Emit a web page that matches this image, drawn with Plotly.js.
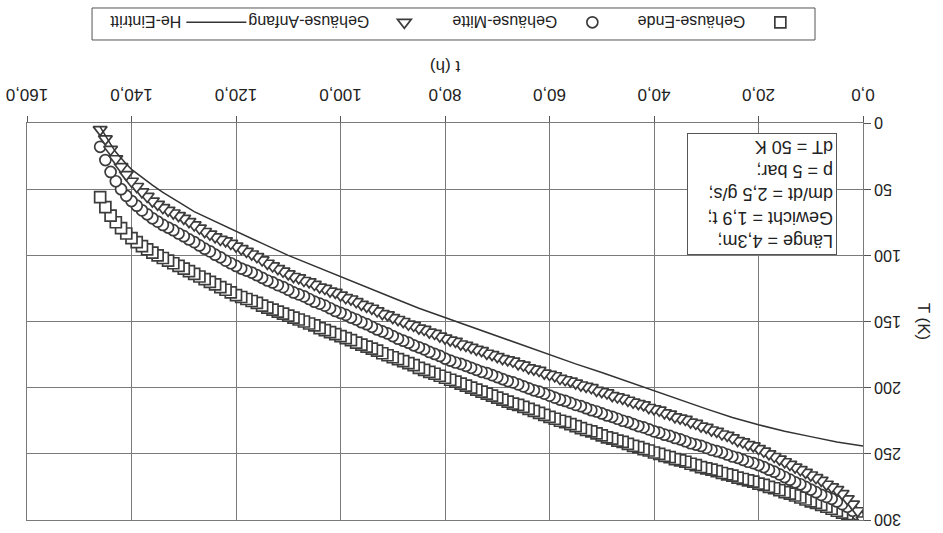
<!DOCTYPE html>
<html>
<head>
<meta charset="utf-8">
<script src="https://cdn.plot.ly/plotly-3.0.1.min.js"></script>
<style>
  html, body { margin: 0; padding: 0; background: #fff; }
  #chart { width: 943px; height: 533px; transform: rotate(180deg); transform-origin: 50% 50%; }
</style>
</head>
<body>
<div id="chart"></div>
<script>
// Time axis of the housing temperature samples (h)
const tHours = [
  0,1,2,3,4,5,6,7,8,9,
  10,11,12,13,14,15,16,17,18,19,
  20,21,22,23,24,25,26,27,28,29,
  30,31,32,33,34,35,36,37,38,39,
  40,41,42,43,44,45,46,47,48,49,
  50,51,52,53,54,55,56,57,58,59,
  60,61,62,63,64,65,66,67,68,69,
  70,71,72,73,74,75,76,77,78,79,
  80,81,82,83,84,85,86,87,88,89,
  90,91,92,93,94,95,96,97,98,99,
  100,101,102,103,104,105,106,107,108,109,
  110,111,112,113,114,115,116,117,118,119,
  120,121,122,123,124,125,126,127,128,129,
  130,131,132,133,134,135,136,137,138,139,
  140,141,142,143,144,145,146
];

// Gehäuse-Ende (squares), T in K
const tempEnde = [
  300,298.5,297,295.5,294.5,293,291.5,290,288.5,287,
  286,284.5,283,281.5,280,279,277.5,276,275,273.5,
  272.5,271,270,269,268,266.5,265.5,264.5,263,262,
  261,260,258.5,257.5,256,255,254,252.5,251.5,250,
  249,247.5,246.5,245,244,242.5,241,240,238.5,237.5,
  236,234.5,233,232,230.5,229,227.5,226,225,223.5,
  222,220.5,219,217.5,216,214.5,213,212,210.5,209,
  207.5,206,204.5,203,201.5,200,198.5,197,195.5,194,
  192.5,191,189.5,188,186.5,185,183,181.5,180,178.5,
  177,175.5,174,172,170.5,169,167.5,166,164,162.5,
  161,159.5,158,156.5,155,153,151.5,150,148.5,147,
  145.5,144,142.5,141,139.5,138,136,134.5,133,131.5,
  130,128,126,124,122,120,118,116,114,112,
  110,108,106,104,102,100,98,95.5,93,90,
  87,83.5,79.5,75,70,63.5,56
];

// Gehäuse-Mitte (circles), T in K
const tempMitte = [
  300,296,293,290,288,286,284,282.5,281,279,
  277,275,273,271.5,269.5,267.5,265.5,263.5,262,260,
  258.5,257,256,254.5,253,252,250.5,249,248,247,
  245.5,244,243,242,240.5,239,238,236.5,235.5,234,
  233,231.5,230,229,227.5,226,225,223.5,222,221,
  219.5,218,217,215.5,214,213,211.5,210,209,207.5,
  206,204.5,203,202,200.5,199,197.5,196,195,193.5,
  192,190.5,189,188,186.5,185,183.5,182,181,179.5,
  178,176,174.5,173,171,169.5,168,166,164.5,163,
  161,159,157.5,156,154,152,150.5,148.5,147,145,
  143.5,142,140,138,136.5,135,133,131,129.5,128,
  126,124,122.5,120.5,119,117,115,113,111.5,110,
  108,106,104,101.5,99.5,97,95,92.5,90,88,
  85.5,83.5,81,79,77,74.5,72,69,66,62.5,
  59,55,50,44,37,28,18
];

// Gehäuse-Anfang (triangles), T in K
const tempAnfang = [
  300,293,288,284,280,277,275,273,270,268,
  266,264,262,260,258,256,254,252,250,248,
  246,244,243,241,240,238,236,235,233,232,
  230,229,227,226,224,223,222,220,219,217,
  216,215,213,212,211,209.5,208,207,206,204,
  203,202,200,199,198,196.5,195,194,193,191,
  190,189,187,186,185,183,182,180,179,178,
  176.5,175,174,172,171,169.5,168,167,165,164,
  162.5,161,159,158,156,155,153,152,150,148.5,
  147,145,144,142,140,138.5,137,135,133,132,
  130,128,127,125,124,122,120,119,117,116,
  114,112,110,108,106,103.5,101,99,97,95,
  93,91,89,88,86,84,82,79.5,77,74.5,
  72,70,68,66,64,61.5,59,55.5,52,48,
  44,39,33,27,20,12,5
];

// He-Eintritt (line)
const tHe = [0,5,10,15,20,25,30,35,40,45,50,55,60,65,70,75,80,85,90,95,100,105,110,115,120,125,128,130,132,134,136,138,140,141,142,143,144,145,146];
const tempHe = [244,241,237,233,228,222.5,216,209,202,195,188.5,182,175,168,161,154,147.5,140,132,124,116,108,100,91,82,73,67,62,57.5,52.5,47,41,35,31,26.5,22,16,10,3];

const xTicks = [0,20,40,60,80,100,120,140,160];
const yTicks = [0,50,100,150,200,250,300];

const seriesNames = ['Gehäuse-Ende','Gehäuse-Mitte','Gehäuse-Anfang','He-Eintritt'];
const infoLines = ['Länge = 4,3m;','Gewicht = 1,9 t;','dm/dt = 2,5 g/s;','p = 5 bar;','dT = 50 K'];

const FONT = 'Liberation Sans, Arial, sans-serif';
const mk = (sym, sz) => ({symbol: sym, size: sz, color: '#ffffff', line: {color: '#3c3c3c', width: 1.7}});

const traces = [
  {x: tHours, y: tempEnde, name: seriesNames[0], type: 'scatter', mode: 'markers', marker: mk('square', 11)},
  {x: tHours, y: tempMitte, name: seriesNames[1], type: 'scatter', mode: 'markers', marker: mk('circle', 11)},
  {x: tHours, y: tempAnfang, name: seriesNames[2], type: 'scatter', mode: 'markers', marker: mk('triangle-up', 12)},
  {x: tHe, y: tempHe, name: seriesNames[3], type: 'scatter', mode: 'lines', line: {color: '#333333', width: 1.5}}
];

const layout = {
  width: 943, height: 533,
  margin: {l: 80, r: 27, t: 13, b: 123, pad: 0, autoexpand: false},
  paper_bgcolor: '#ffffff', plot_bgcolor: '#ffffff',
  separators: ',.',
  font: {family: FONT, size: 16, color: '#222222'},
  showlegend: true,
  legend: {
    orientation: 'h', x: 0.057, xanchor: 'left', y: -0.211, yanchor: 'top',
    borderwidth: 0, bgcolor: 'rgba(0,0,0,0)',
    font: {family: FONT, size: 16, color: '#222222'},
    traceorder: 'normal', itemwidth: 60, entrywidth: 113, entrywidthmode: 'pixels'
  },
  shapes: [{
    type: 'rect', xref: 'paper', yref: 'paper',
    x0: 0.0574, x1: 0.9222, y0: -0.2897, y1: -0.2091,
    line: {color: '#555555', width: 1}, fillcolor: 'rgba(0,0,0,0)', layer: 'below'
  }],
  xaxis: {
    range: [0, 160], tickvals: xTicks, tickformat: '.1f',
    showgrid: true, gridcolor: '#7a7a7a', gridwidth: 1, zeroline: false,
    showline: true, linecolor: '#7a7a7a', mirror: true,
    ticks: 'outside', ticklen: 6, tickcolor: '#555555', ticklabelstandoff: 7,
    tickfont: {family: FONT, size: 17, color: '#222222'},
    title: {text: 't (h)', font: {family: FONT, size: 17, color: '#222222'}, standoff: 12}
  },
  yaxis: {
    range: [0, 300], tickvals: yTicks,
    showgrid: true, gridcolor: '#7a7a7a', gridwidth: 1, zeroline: false,
    showline: true, linecolor: '#7a7a7a', mirror: true,
    ticks: 'outside', ticklen: 7, tickcolor: '#555555',
    tickfont: {family: FONT, size: 16, color: '#222222'},
    title: {text: 'T (K)', font: {family: FONT, size: 17, color: '#222222'}, standoff: 12}
  },
  annotations: [{
    xref: 'paper', yref: 'paper', x: 0.031, y: 0.025, xanchor: 'left', yanchor: 'bottom',
    text: infoLines.join('<br>'), align: 'left', showarrow: false,
    font: {family: FONT, size: 18, color: '#222222'},
    bgcolor: '#ffffff', bordercolor: '#555555', borderwidth: 1, borderpad: 3,
    width: 142
  }]
};

Plotly.newPlot('chart', traces, layout, {staticPlot: true, displayModeBar: false});
</script>
</body>
</html>
